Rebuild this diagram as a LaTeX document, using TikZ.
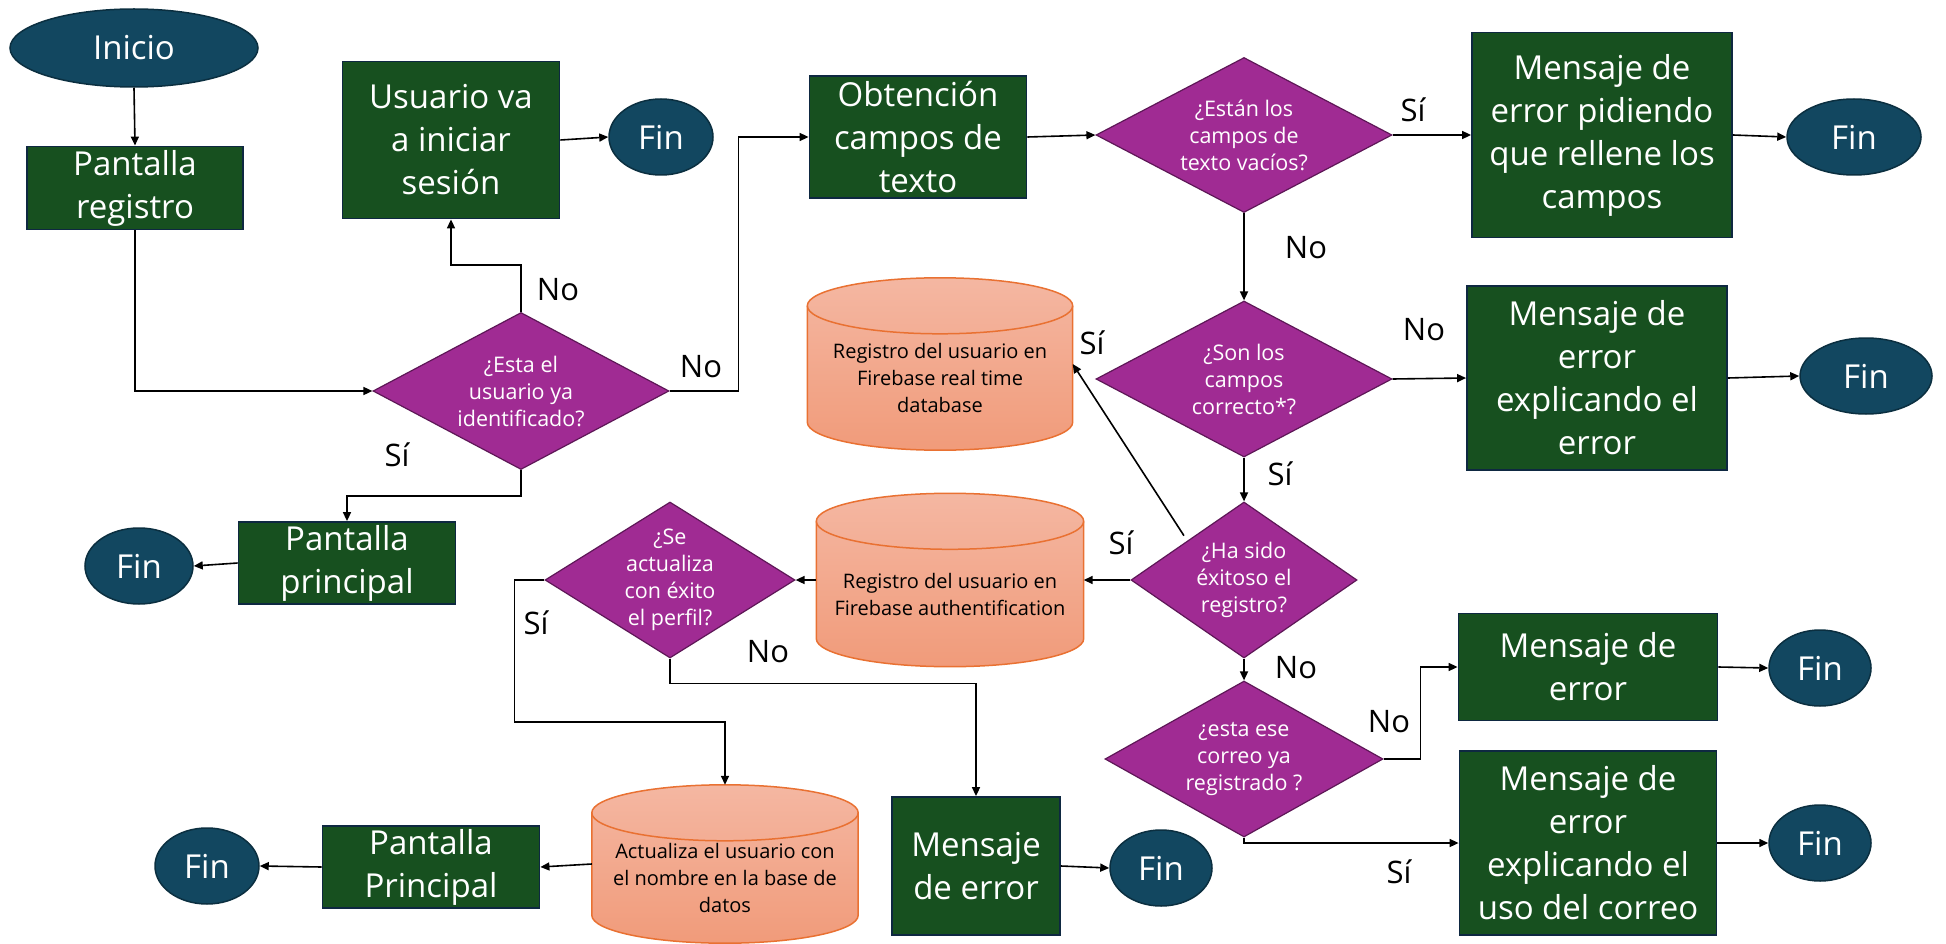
\documentclass[tikz,border=0pt]{standalone}
\usepackage{fontspec}
\setmainfont{Open Sans}
\usetikzlibrary{shapes.geometric,arrows.meta,calc}

\definecolor{boxgreen}{HTML}{17501F}
\definecolor{boxedge}{HTML}{0E2841}
\definecolor{endfill}{HTML}{124760}
\definecolor{endedge}{HTML}{0B2F40}
\definecolor{decfill}{HTML}{A02B93}
\definecolor{decedge}{HTML}{5E1757}
\definecolor{dbtop}{HTML}{F4B7A2}
\definecolor{dbbot}{HTML}{F19B7A}
\definecolor{dbedge}{HTML}{E97132}

\tikzset{
  proc/.style={rectangle, draw=boxedge, line width=1.8pt, fill=boxgreen, text=white,
    align=center, font=\fontsize{33}{43}\selectfont, inner sep=0pt},
  term/.style={ellipse, draw=endedge, line width=1.5pt, fill=endfill, text=white,
    font=\fontsize{33}{38}\selectfont, inner sep=0pt},
  dec/.style={diamond, draw=decedge, line width=1.2pt, fill=decfill, inner sep=0pt},
  dectext/.style={text=white, align=center, font=\fontsize{21.5}{27}\selectfont},
  dbhold/.style={rectangle, inner sep=0pt},
  dbtext/.style={align=center, font=\fontsize{20}{27}\selectfont, text=black},
  lbl/.style={font=\fontsize{31}{36}\selectfont},
  arr/.style={-{Triangle[length=9pt,width=8pt]}, line width=1.6pt},
}

% database cylinder drawn around a placeholder node
\newcommand\dbshape[1]{%
  \path[draw=dbedge, line width=1.5pt, top color=dbtop, bottom color=dbbot]
    let \p1=(#1.north west), \p2=(#1.south east), \n1={(\x2-\x1)/2} in
    (\x1,\y1-28pt) arc[start angle=180, end angle=0, x radius=\n1, y radius=28pt]
    -- (\x2,\y2+28pt) arc[start angle=0, end angle=-180, x radius=\n1, y radius=28pt] -- cycle;
  \draw[dbedge, line width=1.5pt]
    let \p1=(#1.north west), \p2=(#1.south east), \n1={(\x2-\x1)/2} in
    (\x1,\y1-28pt) arc[start angle=180, end angle=360, x radius=\n1, y radius=28pt];
}

\begin{document}
\begin{tikzpicture}[x=1pt, y=1pt]
\useasboundingbox (0,0) rectangle (1946,-944);

% ---------- left column ----------
\node[term, minimum width=248pt, minimum height=78pt] (inicio) at (134,-48) {Inicio};
\node[proc, minimum width=216pt, minimum height=83pt] (preg) at (135,-188) {Pantalla\\registro};
\node[proc, minimum width=217pt, minimum height=157pt] (usr) at (451,-140) {Usuario va\\a iniciar\\sesión};
\node[term, minimum width=104pt, minimum height=76pt] (fin1) at (661,-137) {Fin};
\node[dec, minimum width=296pt, minimum height=157pt] (d1) at (521,-391) {};
\node[dectext] (d1t) at (d1) {¿Esta el\\usuario ya\\identificado?};
\node[proc, minimum width=217pt, minimum height=82pt] (ppal) at (347,-563) {Pantalla\\principal};
\node[term, minimum width=108pt, minimum height=76pt] (fin2) at (139,-566) {Fin};

% ---------- validation column ----------
\node[proc, minimum width=217pt, minimum height=122pt] (obt) at (918,-137) {Obtención\\campos de\\texto};
\node[dec, minimum width=296pt, minimum height=155pt] (d2) at (1244,-135) {};
\node[dectext] (d2t) at (d2) {¿Están los\\campos de\\texto vacíos?};
\node[proc, minimum width=260pt, minimum height=205pt] (msg1) at (1602,-135) {Mensaje de\\error pidiendo\\que rellene los\\campos};
\node[term, minimum width=134pt, minimum height=76pt] (fin5) at (1854,-137) {Fin};

\node[dec, minimum width=296pt, minimum height=156pt] (d3) at (1244,-379) {};
\node[dectext] (d3t) at (d3) {¿Son los\\campos\\correcto*?};
\node[proc, minimum width=260pt, minimum height=184pt] (msg2) at (1597,-378) {Mensaje de\\error\\explicando el\\error};
\node[term, minimum width=132pt, minimum height=76pt] (fin6) at (1866,-376) {Fin};

% ---------- databases ----------
\node[dbhold, minimum width=265pt, minimum height=172pt] (c1) at (940,-364) {};
\dbshape{c1}
\node[dbtext] (c1t) at ($(c1)+(0,-14)$) {Registro del usuario en\\Firebase real time\\database};

\node[dbhold, minimum width=267pt, minimum height=173pt] (c2) at (950,-580) {};
\dbshape{c2}
\node[dbtext] (c2t) at ($(c2)+(0,-14)$) {Registro del usuario en\\Firebase authentification};

\node[dbhold, minimum width=266pt, minimum height=158pt] (c3) at (725,-864) {};
\dbshape{c3}
\node[dbtext] (c3t) at ($(c3)+(0,-14)$) {Actualiza el usuario con\\el nombre en la base de\\datos};

% ---------- registration result ----------
\node[dec, minimum width=226pt, minimum height=156pt] (d4) at (1244,-580) {};
\node[dectext] (d4t) at (d4) {¿Ha sido\\éxitoso el\\registro?};
\node[dec, minimum width=250pt, minimum height=156pt] (d5) at (670,-580) {};
\node[dectext] (d5t) at (d5) {¿Se\\actualiza\\con éxito\\el perfil?};
\node[proc, minimum width=168pt, minimum height=138pt] (msg3) at (976,-866) {Mensaje\\de error};
\node[term, minimum width=102pt, minimum height=76pt] (fin4) at (1161,-868) {Fin};
\node[proc, minimum width=217pt, minimum height=82pt] (ppal2) at (431,-867) {Pantalla\\Principal};
\node[term, minimum width=104pt, minimum height=76pt] (fin3) at (207,-866) {Fin};

\node[dec, minimum width=278pt, minimum height=156pt] (d6) at (1244,-759) {};
\node[dectext] (d6t) at (d6) {¿esta ese\\correo ya\\registrado ?};
\node[proc, minimum width=259pt, minimum height=107pt] (msg4) at (1588,-667) {Mensaje de\\error};
\node[term, minimum width=102pt, minimum height=76pt] (fin7) at (1820,-668) {Fin};
\node[proc, minimum width=257pt, minimum height=184pt] (msg5) at (1588,-843) {Mensaje de\\error\\explicando el\\uso del correo};
\node[term, minimum width=102pt, minimum height=76pt] (fin8) at (1820,-843) {Fin};

% ---------- connectors ----------
\draw[arr] (inicio.south) -- (preg.north);
\draw[arr] (preg.south) |- (d1.west);
\draw[arr] (d1.north) -- ++(0,47) -| (usr.south);
\draw[arr] (usr.east) -- (fin1.west);
\draw[arr] (d1.south) -- ++(0,-26) -| (ppal.north);
\draw[arr] (ppal.west) -- (fin2.east);
\draw[arr] (d1.east) -- ++(69,0) |- (obt.west);
\draw[arr] (obt.east) -- (d2.west);
\draw[arr] (d2.east) -- (msg1.west);
\draw[arr] (msg1.east) -- (fin5.west);
\draw[arr] (d2.south) -- (d3.north);
\draw[arr] (d3.east) -- (msg2.west);
\draw[arr] (msg2.east) -- (fin6.west);
\draw[arr] (d3.south) -- (d4.north);
\draw[arr, shorten <=6pt] (d4.north west) -- (c1.east);
\draw[arr] (d4.west) -- (c2.east);
\draw[arr] (c2.west) -- (d5.east);
\draw[arr] (d5.west) -- ++(-30,0) -- ++(0,-142) -| (c3.north);
\draw[arr] (d5.south) -- ++(0,-25) -| (msg3.north);
\draw[arr] (msg3.east) -- (fin4.west);
\draw[arr] (c3.west) -- (ppal2.east);
\draw[arr] (ppal2.west) -- (fin3.east);
\draw[arr] (d4.south) -- (d6.north);
\draw[arr] (d6.east) -- ++(37,0) |- (msg4.west);
\draw[arr] (d6.south) |- (msg5.west);
\draw[arr] (msg4.east) -- (fin7.west);
\draw[arr] (msg5.east) -- (fin8.west);

% ---------- branch labels ----------
\node[lbl] (l1) at (558,-290) {No};
\node[lbl] (l2) at (397,-455) {Sí};
\node[lbl] (l3) at (701,-367) {No};
\node[lbl] (l4) at (1413,-110) {Sí};
\node[lbl] (l5) at (1306,-248) {No};
\node[lbl] (l6) at (1424,-330) {No};
\node[lbl] (l7) at (1280,-474) {Sí};
\node[lbl] (l8) at (1092,-343) {Sí};
\node[lbl] (l9) at (1121,-543) {Sí};
\node[lbl] (l10) at (1296,-668) {No};
\node[lbl] (l11) at (536,-623) {Sí};
\node[lbl] (l12) at (768,-652) {No};
\node[lbl] (l13) at (1389,-722) {No};
\node[lbl] (l14) at (1399,-872) {Sí};
\end{tikzpicture}
\end{document}
